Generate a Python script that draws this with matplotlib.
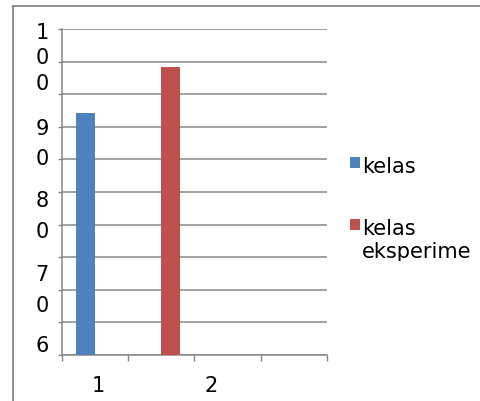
import numpy as np
import matplotlib.pyplot as plt
from matplotlib.lines import Line2D
from matplotlib.patches import Rectangle
from matplotlib.transforms import Bbox, TransformedBbox

# data
categories = [1, 2, 3, 4]
kelas = [89.7, np.nan, np.nan, np.nan]
kelas_eksperimen = [np.nan, 95.3, np.nan, np.nan]
series_names = ['kelas', 'kelas eksperimen']
y_labels = ['100', '90', '80', '70', '60']
x_labels = ['1', '2']

colors = ['#4F81BD', '#C0504D']
grey = '#878787'
W, H = 481, 401
FS = 15


def px(x, y):
    # pixel position (from top-left) -> figure fraction
    return x / W, 1 - y / H


def clip_above(xr, yb):
    # clip box keeping everything left of xr and above yb (pixels)
    return TransformedBbox(Bbox([[0, 1 - yb / H], [xr / W, 1]]), fig.transFigure)


fig = plt.figure(figsize=(W / 100, H / 100), dpi=100)
ax = fig.add_axes([62 / W, (H - 355) / H, 265 / W, 326 / H])

x = np.arange(len(categories))
bw = 1 / 3.5
ax.bar(x + 0.75 * bw, kelas, width=bw, align='edge', color=colors[0], zorder=3)
ax.bar(x + 0.75 * bw + bw, kelas_eksperimen, width=bw, align='edge', color=colors[1], zorder=3)

ax.set_xlim(0, len(categories))
ax.set_ylim(60, 100)
ax.set_yticks(np.arange(60, 101, 4))
ax.set_xticks(np.arange(0, len(categories) + 1))
ax.set_yticklabels([])
ax.set_xticklabels([])
ax.grid(axis='y', color=grey, lw=1.1, zorder=0)
ax.tick_params(axis='y', direction='out', length=3, width=1, color=grey)
ax.tick_params(axis='x', direction='out', length=4.5, width=1, color=grey)
for s in ['top', 'right']:
    ax.spines[s].set_visible(False)
for s in ['left', 'bottom']:
    ax.spines[s].set_color(grey)
    ax.spines[s].set_linewidth(1.1)

# wrapped value-axis labels (one character per line), cut at the axis bottom
yclip = clip_above(W, 357)
ylab_pos = [(39, 25.5), (135, 30), (207, 31), (281, 31), (352, 31)]
for lab, (y0, step) in zip(y_labels, ylab_pos):
    for i, ch in enumerate(lab):
        t = fig.text(*px(42, y0 + i * step), ch, fontsize=FS, ha='center', va='baseline')
        t.set_clip_box(yclip)
        t.set_clip_on(True)

# category labels
xlab_pos = [98, 211]
for lab, xp in zip(x_labels, xlab_pos):
    fig.text(*px(xp, 392), lab, fontsize=FS, ha='center', va='baseline')

# legend, text cut by the legend box
lclip = clip_above(471, 261)
leg_pos = [162, 224]
for name, col, yc in zip(series_names, colors, leg_pos):
    fig.add_artist(Rectangle(px(350, yc + 5.5), 10 / W, 11 / H, transform=fig.transFigure,
                             color=col, lw=0))
    for i, word in enumerate(name.split(' ')):
        t = fig.text(*px(362, yc + 11 + i * 23), word, fontsize=FS, ha='left', va='baseline')
        t.set_clip_box(lclip)
        t.set_clip_on(True)

# chart area border (left and top edges visible)
fig.add_artist(Line2D([13 / W, 13 / W], [0, 1 - 6 / H], transform=fig.transFigure,
                      color=grey, lw=1.3))
fig.add_artist(Line2D([13 / W, 1], [1 - 6 / H, 1 - 6 / H], transform=fig.transFigure,
                      color=grey, lw=1.3))

fig.savefig('out.png', dpi=100)
